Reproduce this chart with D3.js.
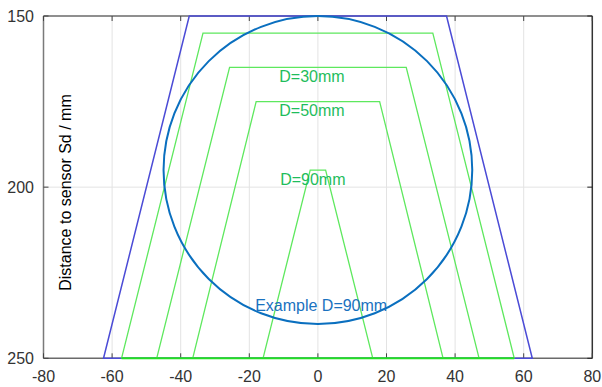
<!DOCTYPE html>
<html><head><meta charset="utf-8">
<script src="https://cdn.jsdelivr.net/npm/d3@7"></script>
<style>body{margin:0;background:#fff}svg{display:block}text{font-family:"Liberation Sans",Arial,sans-serif}</style>
</head><body>
<svg id="c" width="602" height="387"></svg>
<script>
// ---- data ----
const xTicks = [-80,-60,-40,-20,0,20,40,60,80];
const yTicks = [150,200,250];
const outerX = [-62.5,-37.5,37.5,62.5];
const outerY = [250,150,150,250];
const greenTopDist = [155,165,175,195];
const greenTopHalf = [33.5,25.75,18,2.25];
const greenBottomHalf = [57.25,47,36.5,16];
const greenBottomDist = 250;
const circleCenter = [0,195];
const circleRadius = 45;
const labelText = ["D=30mm","D=50mm","D=90mm","Example D=90mm"];
const labelX = [-11.25,-11.25,-11,-18.3];
const labelY = [169.2,179.2,199.4,236.3];
const labelColor = ["#1fbd5c","#1fbd5c","#1fbd5c","#1a72c0"];

// ---- layout ----
const L=43.5, R=592.3, T=16, B=358.3;
const x = d3.scaleLinear().domain([-80,80]).range([L,R]);
const y = d3.scaleLinear().domain([150,250]).range([T,B]);
const svg = d3.select("#c");

// grid
svg.append("g").selectAll("line").data(xTicks.slice(1,-1)).join("line")
  .attr("x1",d=>x(d)).attr("x2",d=>x(d)).attr("y1",T).attr("y2",B)
  .attr("stroke","#e3e3e3").attr("stroke-width",1);
svg.append("g").selectAll("line").data(yTicks.slice(1,-1)).join("line")
  .attr("x1",L).attr("x2",R).attr("y1",d=>y(d)).attr("y2",d=>y(d))
  .attr("stroke","#e3e3e3").attr("stroke-width",1);

// axes box
const ax = svg.append("g");
ax.append("line").attr("x1",L).attr("x2",R).attr("y1",T).attr("y2",T).attr("stroke","#6a6a6a").attr("stroke-width",1.5);
ax.append("line").attr("x1",L).attr("x2",R).attr("y1",B).attr("y2",B).attr("stroke","#6a6a6a").attr("stroke-width",1.5);
ax.append("line").attr("x1",L).attr("x2",L).attr("y1",T).attr("y2",B).attr("stroke","#7a7a7a").attr("stroke-width",1.5);
ax.append("line").attr("x1",R).attr("x2",R).attr("y1",T).attr("y2",B).attr("stroke","#333").attr("stroke-width",1.5);

// ticks
const tl=5;
ax.selectAll(".xb").data(xTicks).join("line").attr("x1",d=>x(d)).attr("x2",d=>x(d))
  .attr("y1",B).attr("y2",B-tl).attr("stroke","#444");
ax.selectAll(".xt").data(xTicks).join("line").attr("class","xt").attr("x1",d=>x(d)).attr("x2",d=>x(d))
  .attr("y1",T).attr("y2",T+tl).attr("stroke","#444");
ax.selectAll(".yl").data(yTicks).join("line").attr("class","yl").attr("x1",L).attr("x2",L+tl)
  .attr("y1",d=>y(d)).attr("y2",d=>y(d)).attr("stroke","#444");
ax.selectAll(".yr").data(yTicks).join("line").attr("class","yr").attr("x1",R).attr("x2",R-tl)
  .attr("y1",d=>y(d)).attr("y2",d=>y(d)).attr("stroke","#222");

const line = d3.line().x(d=>x(d[0])).y(d=>y(d[1]));

// outer blue trapezoid
svg.append("path").attr("d", line(outerX.map((v,i)=>[v,outerY[i]]))+"Z")
  .attr("fill","none").attr("stroke","#4b4bd6").attr("stroke-width",1.5);

// green trapezoids
greenTopDist.forEach((d,i)=>{
  const pts=[[-greenBottomHalf[i],greenBottomDist],[-greenTopHalf[i],d],[greenTopHalf[i],d],[greenBottomHalf[i],greenBottomDist]];
  svg.append("path").attr("d",line(pts)).attr("fill","none")
    .attr("stroke","#5ee85e").attr("stroke-width",1.3);
});
// green base line
svg.append("line").attr("x1",x(-greenBottomHalf[0])).attr("x2",x(greenBottomHalf[0]))
  .attr("y1",y(greenBottomDist)).attr("y2",y(greenBottomDist))
  .attr("stroke","#22e022").attr("stroke-width",2);

// example circle
svg.append("ellipse").attr("cx",x(circleCenter[0])).attr("cy",y(circleCenter[1]))
  .attr("rx",x(circleCenter[0]+circleRadius)-x(circleCenter[0]))
  .attr("ry",y(circleCenter[1]+circleRadius)-y(circleCenter[1]))
  .attr("fill","none").attr("stroke","#0a6fbf").attr("stroke-width",2);

// labels
svg.append("g").selectAll("text").data(labelText).join("text")
  .attr("x",(d,i)=>x(labelX[i])).attr("y",(d,i)=>y(labelY[i]))
  .attr("font-size",16).attr("fill",(d,i)=>labelColor[i]).text(d=>d);

// tick labels
svg.append("g").selectAll("text").data(xTicks).join("text")
  .attr("x",d=>x(d)).attr("y",382).attr("text-anchor","middle")
  .attr("font-size",16).attr("fill","#333").text(d=>d);
svg.append("g").selectAll("text").data(yTicks).join("text")
  .attr("x",34).attr("y",d=>y(d)+6).attr("text-anchor","end")
  .attr("font-size",16).attr("fill","#333").text(d=>d);

// y axis title
svg.append("text").attr("transform","translate(71,192.5) rotate(-90)")
  .attr("text-anchor","middle").attr("font-size",16).attr("fill","#000")
  .text("Distance to sensor Sd / mm");
</script>
</body></html>
